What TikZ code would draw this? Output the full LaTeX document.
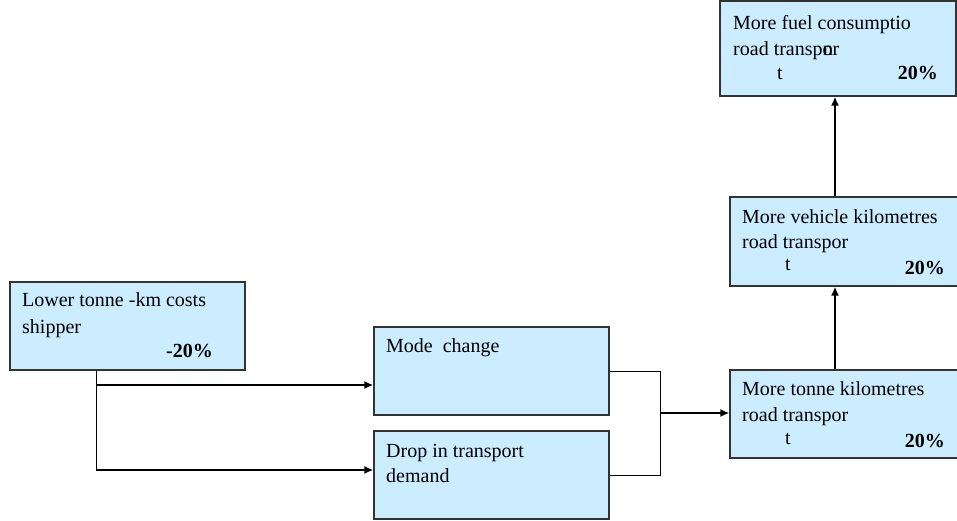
\documentclass[tikz,border=0pt]{standalone}
\usepackage{fontspec}
\setmainfont{Liberation Serif}
\usetikzlibrary{arrows.meta, positioning}
\definecolor{boxblue}{HTML}{CCECFF}
\definecolor{boxline}{HTML}{333333}

\begin{document}
\begin{tikzpicture}[x=1pt,y=-1pt]
        \tikzstyle{every node}+=[inner sep=0pt, font=\fontsize{20}{24}\selectfont]
        \tikzstyle{effect}=[draw=boxline, line width=1.2pt, fill=boxblue, minimum width=235pt, minimum height=88pt]
        \tikzstyle{txt}=[anchor=base west]
        \tikzstyle{pct}=[anchor=base east, font=\fontsize{20}{24}\selectfont\bfseries]
        \tikzstyle{link}=[black, line width=0.8pt]
        \tikzstyle{push}=[black, line width=2pt, -{Latex[length=9pt,width=8pt]}]
        \useasboundingbox (0,0) rectangle (957,521);
        \node [effect] (costs) at (127.5,326) {};
        \node [effect] (mode) at (491.5,371) {};
        \node [effect] (drop) at (491.5,475) {};
        \node [effect, minimum width=228pt] (tonne) at (844,414) {};
        \node [effect, minimum width=228pt, minimum height=89pt] (vehicle) at (844,241.5) {};
        \node [effect, minimum width=236pt, minimum height=95pt] (fuel) at (838,48.5) {};
        \node [txt] (costs1) at (22,306) {Lower tonne -km costs};
        \node [txt] (costs2) at (22,333) {shipper};
        \node [pct] (costsp) at (213,357) {-20\%};
        \node [txt] (mode1) at (386,352) {Mode\ \ change};
        \node [txt] (drop1) at (386,457) {Drop in transport};
        \node [txt] (drop2) at (386,482) {demand};
        \node [txt] (fuel1) at (733,30) {More fuel consumptio};
        \node [txt] (fuel2) at (733,56) {road transpor};
        \node [txt] (fuel3) at (823,56) {n};
        \node [txt] (fuel4) at (777,80) {t};
        \node [pct] (fuelp) at (938,80) {20\%};
        \node [txt] (veh1) at (742,223) {More vehicle kilometres};
        \node [txt] (veh2) at (742,248) {road transpor};
        \node [txt] (veh3) at (785,270) {t};
        \node [pct] (vehp) at (945,274) {20\%};
        \node [txt] (ton1) at (742,395) {More tonne kilometres};
        \node [txt] (ton2) at (742,421) {road transpor};
        \node [txt] (ton3) at (785,444) {t};
        \node [pct] (tonp) at (945,447) {20\%};
        \coordinate (fork) at (96,385);
        \coordinate (forkend) at (96,470);
        \coordinate (join) at (660,413);
        \coordinate (rise) at (835,0);
        \draw [link] (costs.south -| fork) -- (forkend);
        \draw [push] (fork) -- (fork -| mode.west);
        \draw [push] (forkend) -- (forkend -| drop.west);
        \draw [link] (mode.east) -| (join) |- (drop.east);
        \draw [push] (join) -- (join -| tonne.west);
        \draw [push] (tonne.north -| rise) -- (vehicle.south -| rise);
        \draw [push] (vehicle.north -| rise) -- (fuel.south -| rise);
\end{tikzpicture}
\end{document}
